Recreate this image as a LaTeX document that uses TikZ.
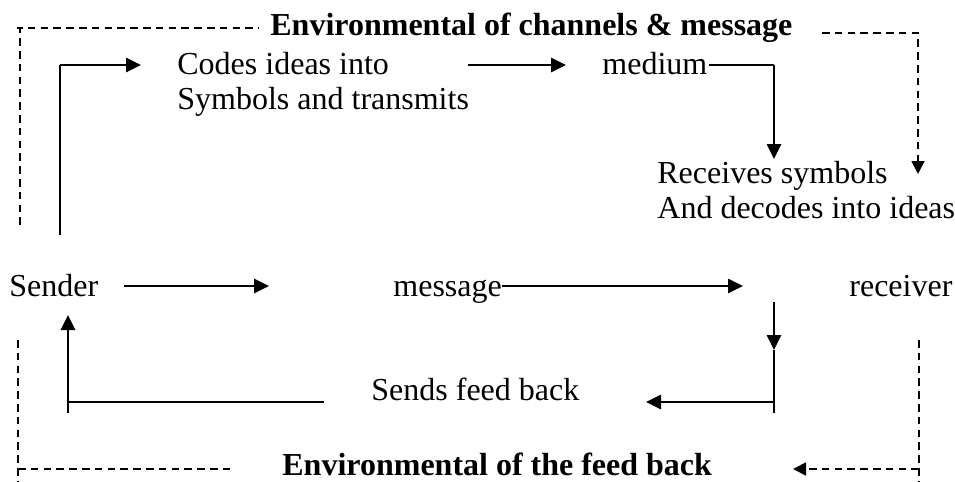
\documentclass[tikz,border=0pt]{standalone}
\usepackage{fontspec}
\setmainfont{Liberation Serif}
\usetikzlibrary{arrows.meta}
\tikzset{
  txt/.style={inner sep=0pt, anchor=base west, font=\fontsize{16}{17}\selectfont},
  ttl/.style={inner sep=0pt, anchor=base west, font=\fontsize{16}{17}\selectfont\bfseries},
  flow/.style={line width=1.3pt, -{Triangle[length=7.5pt,width=7pt]}},
  plain/.style={line width=1.3pt},
  env/.style={line width=0.9pt, dash pattern=on 3.8pt off 2.6pt},
  envarr/.style={env, -{Triangle[length=6.5pt,width=6.5pt]}},
}
\begin{document}
\begin{tikzpicture}[x=0.5pt,y=-0.5pt]
\useasboundingbox (0,0) rectangle (955,482);
% texts
\node[ttl] (top) at (270,35) {Environmental of channels \& message};
\node[ttl] (bot) at (282,475) {Environmental of the feed back};
\node[txt] (codes) at (177,75) {Codes ideas into};
\node[txt] (symb) at (177,109) {Symbols and transmits};
\node[txt] (medium) at (602,75) {medium};
\node[txt] (recv1) at (657,184) {Receives symbols};
\node[txt] (recv2) at (657,218) {And decodes into ideas};
\node[txt] (sender) at (9,296) {Sender};
\node[txt] (message) at (393,296) {message};
\node[txt] (receiver) at (849,296) {receiver};
\node[txt] (feed) at (371,400) {Sends feed back};
% coordinates
\coordinate (a1) at (60,235);
\coordinate (a2) at (60,65);
\coordinate (a3) at (141,65);
\coordinate (b1) at (468,65);
\coordinate (b2) at (566,65);
\coordinate (c1) at (774,65);
\coordinate (c2) at (774,159);
\coordinate (d1) at (124,286);
\coordinate (d2) at (269,286);
\coordinate (e2) at (743,286);
\coordinate (f1) at (774,302);
\coordinate (f2) at (774,350);
\coordinate (f3) at (774,413);
\coordinate (f4) at (774,402);
\coordinate (f5) at (646,402);
\coordinate (g1) at (324,402);
\coordinate (g2) at (68,402);
\coordinate (g3) at (68,413);
\coordinate (g4) at (68,315);
% solid connectors
\draw[plain] (a1) -- (a2);
\draw[flow] (a2) -- (a3);
\draw[flow] (b1) -- (b2);
\draw[plain] (medium.east |- c1) ++(1,0) -- (c1);
\draw[flow] (c1) -- (c2);
\draw[flow] (d1) -- (d2);
\draw[flow] (message.east |- e2) -- (e2);
\draw[flow] (f1) -- (f2);
\draw[plain] (f2) -- (f3);
\draw[flow] (f4) -- (f5);
\draw[plain] (g1) -- (g2);
\draw[plain] (g3) -- (g2);
\draw[flow] (g2) -- (g4);
% environment dashed
\coordinate (t1) at (20,225);
\coordinate (t2) at (20,28);
\coordinate (t3) at (259,28);
\draw[env] (t1) -- (t2) -- (t3);
\draw[env] (t2) -- ++(-3,0) (t2) -- ++(3,0);
\coordinate (r1) at (822,33);
\coordinate (r2) at (918,33);
\coordinate (r3) at (918,174);
\draw[envarr] (r1) -- (r2) -- (r3);
\coordinate (l1) at (18,340);
\coordinate (l2) at (18,482);
\coordinate (l3) at (18,469);
\coordinate (l4) at (233,469);
\draw[env] (l1) -- (l2);
\draw[env] (l3) -- (l4);
\coordinate (q1) at (919,340);
\coordinate (q2) at (919,482);
\coordinate (q3) at (919,469);
\coordinate (q4) at (793,469);
\draw[env] (q1) -- (q2);
\draw[envarr] (q3) -- (q4);
\end{tikzpicture}
\end{document}
